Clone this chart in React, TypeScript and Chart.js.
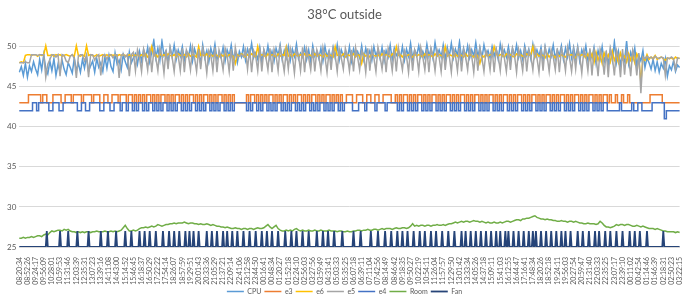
import { useEffect, useRef } from "react";
import { Chart, registerables } from "chart.js";

Chart.register(...registerables);

// Tick labels along the time axis (one every SAMPLES_PER_TICK samples)
const TIME_TICKS = [
  "08:20:34", "08:52:26", "09:24:17", "09:56:09", "10:28:01", "10:59:53", "11:31:46", "12:03:39",
  "12:35:31", "13:07:23", "13:39:16", "14:11:08", "14:43:00", "15:14:52", "15:46:45", "16:18:37",
  "16:50:29", "17:22:22", "17:54:14", "18:26:07", "18:57:59", "19:29:51", "20:01:43", "20:33:36",
  "21:05:29", "21:37:21", "22:09:14", "22:41:06", "23:12:58", "23:44:50", "00:16:41", "00:48:34",
  "01:20:27", "01:52:18", "02:24:10", "02:56:03", "03:27:56", "03:59:49", "04:31:41", "05:03:33",
  "05:35:25", "06:07:18", "06:39:11", "07:11:04", "07:42:56", "08:14:49", "08:46:42", "09:18:35",
  "09:50:27", "10:22:19", "10:54:11", "11:26:04", "11:57:57", "12:29:50", "13:01:42", "13:33:34",
  "14:05:26", "14:37:18", "15:09:11", "15:41:03", "16:12:55", "16:44:47", "17:16:41", "17:48:34",
  "18:20:26", "18:52:18", "19:24:11", "19:56:03", "20:27:54", "20:59:47", "21:31:40", "22:03:33",
  "22:35:25", "23:07:17", "23:39:10", "00:11:02", "00:42:54", "01:14:46", "01:46:39", "02:18:31",
  "02:50:23", "03:22:15",
];
const SAMPLES_PER_TICK = 4;
const Y_TICKS = [25, 30, 35, 40, 45, 50];

const CPU = [
  46.8,47.5,46.4,47.9,46.2,47.6,46.9,48.1,47.2,46.5,48.4,47.1,49.0,47.3,46.6,48.2,47.0,48.5,46.4,47.8,
  46.9,48.3,47.2,46.5,48.0,47.4,46.7,48.6,47.0,47.9,46.8,48.4,47.3,48.8,46.9,47.6,48.2,46.8,48.5,47.4,
  48.0,46.9,48.7,47.3,48.9,47.5,46.9,49.2,47.8,48.3,47.1,49.0,48.1,47.4,49.3,48.0,48.6,49.1,47.8,49.4,
  48.2,49.6,48.5,49.9,48.1,49.3,50.8,48.6,49.8,48.3,50.7,48.9,49.5,48.0,49.9,48.7,50.2,48.4,49.6,48.8,
  50.0,48.3,49.4,48.7,50.1,48.2,49.7,48.9,49.2,47.9,50.2,48.6,49.5,48.1,49.8,48.8,50.3,48.4,49.1,48.6,
  49.9,48.2,49.6,48.8,50.2,48.5,49.3,48.0,49.4,48.7,50.0,48.3,49.7,48.9,50.4,48.6,49.2,48.4,49.9,48.1,
  49.6,48.7,50.1,48.5,49.4,48.2,49.8,48.9,50.2,48.4,49.5,48.6,50.0,48.3,49.7,48.8,50.3,48.5,49.2,48.7,
  49.9,48.4,49.6,48.1,50.1,48.8,49.4,48.5,49.8,48.2,50.0,48.7,49.5,48.4,49.9,48.6,50.2,48.3,49.6,48.8,
  49.3,48.5,50.0,48.2,49.7,48.9,49.4,48.6,50.1,48.4,49.8,48.7,49.5,48.3,50.0,48.8,49.6,48.5,49.9,48.2,
  49.5,48.7,50.2,48.4,49.8,48.9,49.3,48.6,50.0,48.3,49.7,48.8,50.4,48.5,49.6,48.9,50.1,48.7,49.4,48.6,
  50.3,48.8,49.7,48.5,50.5,48.9,49.6,48.7,50.2,48.4,49.9,48.8,50.4,48.6,49.7,48.9,50.6,48.5,49.8,48.7,
  50.1,48.6,49.6,48.8,50.5,48.7,49.9,48.5,50.2,48.9,49.5,48.6,50.0,48.8,49.7,48.4,50.3,48.9,49.6,48.7,
  50.0,48.5,49.8,48.8,50.2,48.6,49.5,48.4,50.1,48.9,49.7,48.5,50.3,48.7,49.6,48.8,49.9,48.3,50.0,48.6,
  49.7,48.8,50.2,48.5,49.6,48.9,50.1,48.4,49.8,48.7,50.4,48.6,49.9,48.5,50.0,48.2,49.6,48.8,50.1,48.3,
  49.4,48.6,49.9,47.9,49.5,48.4,50.0,48.1,49.2,47.8,49.7,48.3,50.6,48.0,49.4,47.7,49.1,48.2,50.7,47.9,
  49.3,48.4,49.8,47.6,48.9,48.2,49.5,47.4,48.6,48.0,47.2,48.4,47.0,48.1,46.8,47.9,47.3,48.5,46.3,47.6,
  47.1,48.2,46.9,47.7,47.4,
];

const E3 = [
  43,43,43,43,43,44,44,44,44,44,44,43,44,44,43,43,43,44,44,44,
  44,43,43,44,44,44,43,44,44,44,44,43,44,44,44,44,43,44,44,44,
  43,43,44,44,43,43,44,44,44,43,44,44,44,43,44,44,43,44,43,44,
  43,44,43,44,44,43,44,43,44,43,44,44,43,44,43,44,43,44,44,43,
  44,43,44,43,44,44,43,44,43,44,43,44,44,43,44,43,44,43,44,44,
  43,44,43,44,43,44,43,43,43,43,43,43,44,43,44,44,43,44,43,44,
  43,44,43,44,44,43,44,43,44,43,44,44,43,44,43,44,43,44,44,43,
  44,43,44,43,44,44,43,44,43,44,43,44,44,43,44,43,44,43,44,43,
  43,44,44,44,43,43,44,44,44,43,43,44,44,43,43,44,44,43,43,44,
  44,44,44,43,43,44,43,44,43,44,44,43,44,43,44,43,44,44,43,44,
  43,44,43,44,44,43,44,43,44,43,44,44,43,44,43,44,43,44,44,43,
  44,43,44,43,44,44,43,44,43,44,43,44,44,43,44,43,44,43,44,44,
  43,44,43,44,43,44,44,43,44,43,44,43,44,44,43,44,43,44,43,44,
  44,43,44,43,44,43,44,44,43,44,43,44,43,44,44,43,44,43,44,43,
  44,44,43,44,43,44,43,44,44,43,44,43,43,44,43,43,44,43,43,44,
  43,43,43,43,43,43,43,43,43,43,44,44,44,44,44,44,43,43,43,43,
  43,43,43,43,43,
];

const E6 = [
  48.0,48.1,48.0,48.9,49.0,49.0,48.9,49.0,49.0,48.8,49.0,48.9,49.0,50.1,48.9,48.9,49.0,48.8,49.0,48.9,
  49.0,48.8,48.9,49.0,48.9,48.8,49.0,48.8,50.1,48.9,48.8,49.0,48.8,50.1,48.9,49.0,48.9,48.8,49.0,48.8,
  48.9,49.0,48.8,49.0,48.8,49.0,48.9,49.0,48.8,49.0,48.9,49.0,48.9,48.8,49.0,48.8,49.0,48.9,49.0,48.8,
  49.0,48.8,49.1,48.7,49.0,50.0,48.8,49.0,48.7,49.1,48.8,49.0,48.7,49.1,48.9,48.8,49.0,48.7,49.1,48.9,
  48.8,49.0,48.7,49.1,48.8,49.0,48.9,48.7,50.0,48.9,49.0,48.8,49.1,48.7,49.0,48.8,49.1,48.9,48.7,49.0,
  48.8,49.1,48.7,49.0,48.9,48.8,47.9,49.0,48.8,49.1,48.9,48.7,49.0,48.8,49.1,48.9,48.7,50.0,48.8,49.0,
  48.9,48.7,49.1,48.8,49.0,48.9,48.7,49.1,48.8,49.0,48.9,50.0,48.8,49.0,48.7,49.1,48.9,48.8,49.0,48.7,
  49.1,48.8,49.0,48.9,48.7,49.1,48.8,49.0,48.9,48.7,49.1,48.8,49.0,48.9,48.7,50.0,48.9,49.0,48.8,49.1,
  48.7,49.0,48.9,48.8,49.1,48.7,49.0,48.9,47.9,49.1,48.8,49.0,48.7,49.1,48.9,48.8,49.0,48.7,49.1,48.8,
  49.0,48.9,48.7,49.1,48.8,50.0,48.9,49.0,48.7,49.1,48.8,49.0,48.9,48.7,49.1,48.8,49.0,48.9,48.7,49.1,
  48.8,49.0,48.9,48.7,49.1,48.8,49.0,48.9,48.7,50.0,48.8,49.0,48.9,48.7,49.1,48.8,49.0,48.9,48.7,49.1,
  48.8,49.0,48.9,48.7,49.1,48.8,47.9,48.9,48.7,49.1,48.8,49.0,48.9,50.0,49.1,48.8,49.0,48.9,48.7,49.1,
  48.9,49.0,48.8,48.7,49.1,48.9,49.0,48.8,48.7,49.1,48.9,49.0,50.0,48.7,49.1,48.8,49.0,48.9,48.6,49.1,
  48.7,49.0,48.9,48.6,49.1,48.8,49.0,48.8,48.7,49.1,48.9,49.0,48.8,48.6,49.2,48.8,49.0,48.9,48.6,49.1,
  48.4,49.1,48.0,49.3,48.3,49.0,47.9,49.2,48.5,49.0,48.1,49.4,48.3,48.9,48.0,49.2,48.4,48.8,48.1,49.1,
  48.3,48.9,48.0,49.1,48.5,45.5,48.6,48.3,49.0,48.4,48.7,48.5,48.9,48.4,48.6,48.7,48.5,48.3,48.6,48.5,
  48.6,48.4,48.7,48.5,48.6,
];

const E5 = [
  48.0,48.0,48.0,48.1,48.0,48.0,49.0,49.0,49.0,48.9,49.0,49.0,49.0,46.2,47.8,48.4,49.0,49.0,48.7,49.0,
  46.3,49.0,48.9,48.2,48.0,48.8,49.0,48.5,46.1,48.8,49.0,49.0,48.2,48.9,46.2,49.0,49.0,48.3,48.8,49.0,
  46.4,48.9,49.0,48.4,49.0,49.0,48.6,49.0,49.0,46.1,48.9,49.1,48.7,49.0,46.3,49.0,49.3,47.0,49.6,48.7,
  46.9,49.7,48.8,47.1,49.9,46.8,49.5,48.6,47.0,49.8,48.9,46.7,49.6,47.2,49.9,48.7,46.9,49.5,48.8,47.0,
  49.8,46.8,49.6,48.9,47.1,49.9,48.6,46.9,49.7,47.2,49.8,48.8,46.7,49.5,48.9,47.0,49.9,46.8,49.6,48.7,
  47.1,49.8,48.9,46.9,49.7,47.0,49.9,48.6,48.8,49.0,48.7,49.6,47.2,49.8,46.8,49.5,48.8,47.0,49.9,46.9,
  49.6,48.7,47.1,49.8,46.8,49.7,48.9,47.0,49.9,48.6,46.9,49.5,47.2,49.8,48.8,46.7,49.6,48.9,47.0,49.9,
  46.8,49.7,48.6,47.1,49.8,46.9,49.6,48.8,47.0,49.9,48.7,46.8,49.5,47.1,49.8,48.9,46.9,49.7,48.6,47.2,
  49.8,48.8,47.0,49.6,46.9,49.9,48.7,47.1,49.5,48.9,46.8,49.8,47.0,49.7,48.6,46.9,49.9,48.8,47.2,49.6,
  46.8,49.8,48.9,47.0,49.7,46.9,49.9,48.6,47.1,49.5,48.8,46.8,49.8,47.0,49.6,48.9,46.9,49.9,48.7,47.1,
  49.7,46.8,49.8,48.9,47.0,49.6,48.7,46.9,49.9,47.1,49.5,48.8,46.8,49.7,48.9,47.0,49.8,46.9,49.6,48.7,
  47.1,49.9,48.8,46.8,49.7,47.0,49.8,48.6,46.9,49.5,48.9,47.1,49.8,46.8,49.7,48.8,47.0,49.9,48.6,46.9,
  49.6,47.1,49.8,48.9,46.8,49.7,48.7,47.0,49.9,46.9,49.5,48.8,47.1,49.8,48.6,46.8,49.7,47.0,49.9,48.8,
  46.9,49.6,48.7,47.1,49.8,46.8,49.7,48.9,47.0,49.9,48.6,46.9,49.5,47.2,49.8,48.8,46.7,49.6,48.9,47.0,
  49.8,46.4,49.6,48.8,46.3,49.7,48.9,46.5,49.5,46.2,49.8,48.7,46.4,49.6,48.8,46.2,49.7,46.5,49.5,48.7,
  46.3,49.6,48.8,46.4,49.2,44.2,48.7,48.5,48.8,48.6,48.7,48.4,48.8,48.6,48.5,48.7,48.6,46.4,48.6,48.5,
  48.7,48.5,47.2,48.6,48.5,
];

const E4 = [
  42,42,42,42,42,42,42,43,43,42,43,43,43,43,43,42,42,43,43,43,
  42,42,43,43,43,43,43,43,43,42,42,43,43,42,42,43,43,43,43,43,
  42,42,43,43,43,42,42,43,43,43,42,43,43,42,43,43,42,43,42,43,
  43,42,43,42,43,43,42,43,42,43,42,43,43,42,43,42,43,42,43,43,
  42,43,42,43,42,43,43,42,43,42,43,42,43,43,42,43,42,43,42,43,
  43,42,43,42,43,42,43,43,43,43,43,43,42,43,42,43,43,42,43,42,
  43,43,42,43,42,43,42,43,43,42,43,42,43,42,43,43,42,43,42,43,
  42,43,43,42,43,42,43,42,43,43,42,43,42,43,42,43,43,42,43,42,
  43,43,43,43,42,42,42,43,43,43,42,43,43,43,43,42,43,43,43,43,
  42,43,43,43,43,43,42,43,42,43,43,42,43,42,43,42,43,43,42,43,
  42,43,42,43,43,42,43,42,43,42,43,43,42,43,42,43,42,43,43,42,
  43,42,43,42,43,43,42,43,42,43,42,43,43,42,43,42,43,42,43,43,
  42,43,42,43,42,43,43,42,43,42,43,42,43,43,42,43,42,43,42,43,
  43,42,43,42,43,42,43,43,42,43,42,43,42,43,43,42,43,42,43,42,
  43,43,42,43,42,43,42,43,43,42,42,42,42,42,42,43,42,42,42,42,
  42,43,42,42,43,43,42,42,42,42,42,43,43,43,43,43,43,41,42,42,
  42,42,42,42,42,
];

const ROOM = [
  26.1,26.1,26.2,26.1,26.2,26.2,26.3,26.2,26.3,26.4,26.4,26.3,26.5,26.6,26.5,26.8,27.0,26.9,27.0,27.1,
  27.1,27.0,27.2,27.1,27.2,27.0,26.9,26.9,26.8,26.9,26.8,26.9,26.8,26.9,26.9,26.8,26.9,26.9,27.0,26.9,
  26.9,26.9,27.0,26.9,26.9,27.0,26.9,27.0,26.9,27.0,27.1,27.4,27.7,27.3,27.0,27.0,27.1,27.0,27.1,27.3,
  27.4,27.4,27.5,27.4,27.5,27.6,27.5,27.6,27.8,27.7,27.6,27.7,27.8,27.8,27.9,27.9,28.0,27.9,28.0,28.0,
  28.0,28.1,28.0,27.9,28.0,28.0,27.9,27.9,27.8,27.9,27.8,27.8,27.9,27.8,27.7,27.8,27.7,27.6,27.6,27.5,
  27.5,27.4,27.5,27.4,27.3,27.3,27.4,27.3,27.3,27.2,27.3,27.3,27.2,27.3,27.3,27.2,27.3,27.4,27.3,27.3,
  27.4,27.6,27.8,27.5,27.3,27.5,27.7,27.3,27.1,27.0,27.0,27.1,27.0,27.1,27.0,27.2,27.3,27.1,27.0,27.1,
  27.0,27.0,27.1,27.0,27.0,27.1,27.0,27.0,27.1,27.0,27.0,27.0,27.1,27.0,27.0,27.0,26.9,27.0,27.0,26.9,
  26.9,27.0,26.9,26.9,27.0,27.0,27.1,27.1,27.0,27.1,27.1,27.2,27.1,27.1,27.2,27.2,27.1,27.2,27.3,27.2,
  27.3,27.3,27.3,27.2,27.3,27.4,27.3,27.3,27.4,27.4,27.3,27.4,27.6,27.9,27.6,27.7,27.6,27.7,27.7,27.6,
  27.7,27.7,27.6,27.7,27.7,27.8,27.7,27.7,27.8,27.7,27.8,27.9,27.9,28.0,28.1,28.0,28.1,28.2,28.1,28.2,
  28.2,28.1,28.2,28.3,28.2,28.2,28.1,28.2,28.1,28.0,28.1,28.0,28.0,28.1,28.0,28.0,28.1,28.0,28.1,28.2,
  28.2,28.1,28.2,28.3,28.4,28.4,28.3,28.5,28.5,28.6,28.6,28.7,28.8,28.9,28.7,28.6,28.5,28.5,28.4,28.5,
  28.4,28.4,28.3,28.3,28.2,28.2,28.3,28.2,28.2,28.1,28.2,28.2,28.1,28.2,28.1,28.0,28.0,27.9,27.9,28.0,
  27.9,27.9,27.9,27.8,27.9,28.2,28.0,27.7,27.5,27.5,27.4,27.5,27.6,27.8,27.7,27.8,27.8,27.7,27.8,27.8,
  27.7,27.6,27.6,27.7,27.6,27.5,27.6,27.5,27.4,27.3,27.3,27.3,27.2,27.3,27.2,27.1,27.0,27.0,26.9,26.9,
  26.9,26.9,26.8,26.9,26.8,
];

// Fan is logged twice as often as the temperatures (8 samples per time tick)
const FAN_SAMPLES_PER_TICK = 8;
const FAN = [
  25,25,25,25,25,25,25,25,25,25,25,25,25,25,25,25,25,25,25,25,
  25,25,25,25,25,25,25,27,25,25,25,25,25,25,25,25,25,25,25,25,
  27,25,25,25,25,25,25,25,27,25,25,25,25,25,25,25,25,27,25,25,
  25,25,25,25,25,25,25,25,27,25,25,25,25,25,25,25,25,25,25,25,
  27,25,25,25,25,25,25,27,25,25,25,25,25,25,25,27,25,25,25,25,
  25,25,25,25,27,25,25,25,25,25,27,25,25,25,25,25,25,25,27,25,
  25,25,25,27,25,25,25,25,27,25,25,25,25,25,27,25,25,25,25,25,
  25,27,25,25,25,25,25,27,25,25,25,25,27,25,25,25,25,27,25,25,
  25,25,25,27,25,25,25,27,25,25,25,27,25,25,25,25,27,25,25,25,
  25,25,25,25,27,25,25,25,25,27,25,25,25,25,27,25,25,25,25,25,
  27,25,25,25,27,25,25,25,25,27,25,25,25,25,27,25,25,25,25,25,
  27,25,25,25,25,25,27,25,25,25,25,25,27,25,25,25,25,25,27,25,
  25,25,25,27,25,25,25,25,27,25,25,25,25,25,27,25,25,25,25,25,
  25,27,25,25,25,25,25,27,25,25,25,25,27,25,25,25,25,25,27,25,
  25,25,25,25,27,25,25,25,25,25,25,25,27,25,25,25,25,25,27,25,
  25,25,25,27,25,25,25,25,25,27,25,25,25,25,25,25,25,27,25,25,
  25,25,25,25,25,25,25,25,27,25,25,25,25,25,25,27,25,25,25,25,
  25,25,25,25,25,27,25,25,25,25,25,25,27,25,25,25,25,25,25,27,
  25,25,25,25,25,27,25,25,25,25,25,27,25,25,25,25,27,25,25,25,
  25,27,25,25,25,25,25,27,25,25,25,25,25,27,25,25,25,25,27,25,
  25,25,25,25,27,25,25,25,25,27,25,25,25,25,25,27,25,25,25,25,
  25,27,25,25,25,25,25,27,25,25,25,25,25,25,27,25,25,25,27,25,
  25,25,25,27,25,25,25,25,27,25,25,25,25,27,25,25,25,25,27,25,
  25,25,25,27,25,25,25,25,27,25,25,25,27,25,25,25,25,27,25,25,
  27,25,25,25,25,27,25,25,25,25,27,25,25,25,25,27,25,25,25,25,
  27,25,25,25,27,25,25,27,25,25,25,25,27,25,25,25,25,27,25,25,
  25,25,27,25,25,25,25,27,25,25,25,25,27,25,25,25,27,25,25,25,
  25,27,25,25,25,25,25,25,27,25,25,25,25,27,25,25,25,25,25,27,
  25,25,25,25,25,27,25,25,25,27,25,25,25,25,25,27,25,25,25,25,
  27,25,25,25,25,25,27,25,25,25,25,25,27,25,25,25,25,25,25,27,
  25,25,25,25,27,25,25,25,25,27,25,25,25,25,25,25,27,25,25,25,
  25,25,25,25,25,25,25,25,25,25,25,25,27,25,25,25,25,25,25,25,
  25,25,25,25,25,25,25,25,25,
];

const SERIES = [
  { label: "CPU", data: CPU, color: "#5B9BD5", stepped: false },
  { label: "e3", data: E3, color: "#ED7D31", stepped: true },
  { label: "e6", data: E6, color: "#FFC000", stepped: false },
  { label: "e5", data: E5, color: "#A5A5A5", stepped: false },
  { label: "e4", data: E4, color: "#4472C4", stepped: true },
  { label: "Room", data: ROOM, color: "#70AD47", stepped: false },
  { label: "Fan", data: FAN, color: "#264478", stepped: false },
];

const FONT = "Lato, 'Open Sans', 'Liberation Sans', sans-serif";
const TEXT = "#595959";

export default function App() {
  const canvasRef = useRef<HTMLCanvasElement>(null);

  useEffect(() => {
    const canvas = canvasRef.current;
    if (!canvas) return;

    const labels = CPU.map((_, i) =>
      i % SAMPLES_PER_TICK === 0 ? TIME_TICKS[i / SAMPLES_PER_TICK] : ""
    );
    const fanLabels = FAN.map((_, i) =>
      i % FAN_SAMPLES_PER_TICK === 0 ? TIME_TICKS[i / FAN_SAMPLES_PER_TICK] : ""
    );

    const chart = new Chart(canvas, {
      type: "line",
      data: {
        labels,
        datasets: SERIES.map((s, i) => ({
          label: s.label,
          data: s.data,
          xAxisID: s.label === "Fan" ? "xFan" : "x",
          borderColor: s.color,
          backgroundColor: s.color,
          borderWidth: s.label === "Fan" ? 1.8 : 1.5,
          pointRadius: 0,
          pointHoverRadius: 0,
          tension: 0,
          stepped: s.stepped ? "middle" : false,
          fill: false,
          // later series are painted on top of earlier ones
          order: SERIES.length - i,
        })),
      },
      options: {
        responsive: false,
        animation: false,
        layout: { padding: { left: 4, right: 5, top: 0, bottom: -8 } },
        plugins: {
          title: {
            display: true,
            text: "38°C outside",
            color: TEXT,
            font: { family: FONT, size: 13, weight: "normal" },
            padding: { top: 7, bottom: 16 },
          },
          legend: {
            position: "bottom",
            labels: {
              usePointStyle: true,
              pointStyle: "line",
              pointStyleWidth: 17,
              color: TEXT,
              font: { family: FONT, size: 7 },
              padding: 3,
              sort: (a, b) => (a.datasetIndex ?? 0) - (b.datasetIndex ?? 0),
            },
          },
          tooltip: { enabled: false },
        },
        scales: {
          x: {
            type: "category",
            grid: { display: false },
            border: { color: "#D9D9D9" },
            afterFit: (axis) => {
              axis.height = 38;
            },
            ticks: {
              autoSkip: false,
              maxRotation: 90,
              minRotation: 90,
              padding: 2,
              color: TEXT,
              font: { family: FONT, size: 7 },
              callback: function (value) {
                const l = this.getLabelForValue(value as number);
                return l === "" ? null : l;
              },
            },
          },
          xFan: {
            type: "category",
            labels: fanLabels,
            display: false,
            offset: false,
          },
          y: {
            min: 25,
            max: 51,
            grid: { color: "#D9D9D9", drawTicks: false },
            border: { display: false },
            ticks: {
              padding: 3,
              color: TEXT,
              font: { family: FONT, size: 8 },
            },
            afterBuildTicks: (axis) => {
              axis.ticks = Y_TICKS.map((v) => ({ value: v }));
            },
          },
        },
      },
    });

    return () => chart.destroy();
  }, []);

  return (
    <div style={{ position: "fixed", left: 0, top: 0, width: 690, height: 297, background: "#fff" }}>
      <canvas ref={canvasRef} width={690} height={297} style={{ display: "block" }} />
    </div>
  );
}
